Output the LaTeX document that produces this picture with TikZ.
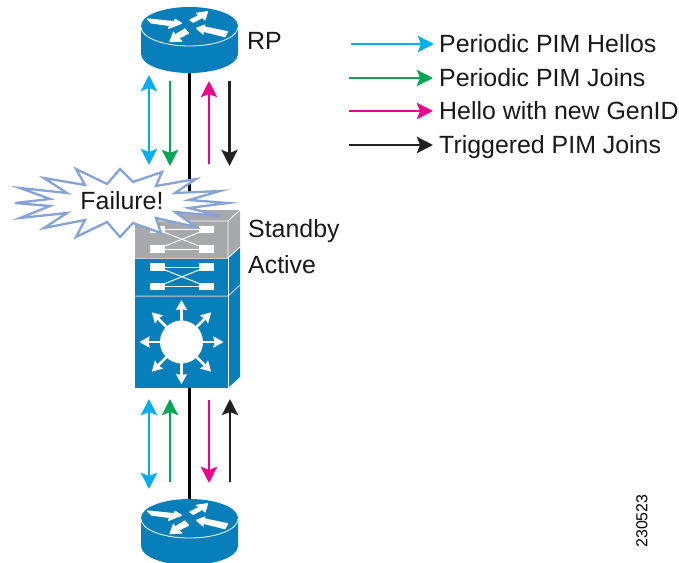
\documentclass[tikz,border=0pt]{standalone}
\usepackage{fontspec}
\setmainfont{Liberation Sans}
\usetikzlibrary{arrows.meta}
\usetikzlibrary{calc}
\usetikzlibrary{positioning}
\definecolor{ciscoblue}{RGB}{8,126,187}
\definecolor{ciscogray}{RGB}{167,169,172}
\definecolor{burstblue}{RGB}{133,163,214}
\definecolor{hellocol}{RGB}{0,174,239}
\definecolor{joincol}{RGB}{0,166,81}
\definecolor{gencol}{RGB}{236,0,140}
\definecolor{trigcol}{RGB}{35,31,32}

\begin{document}
\begin{tikzpicture}[x=1pt,y=-1pt]
        \tikzset{hello_edge/.style = {line width=2.9pt,color=hellocol,-{Stealth[length=16pt,width=16pt,inset=3pt]}}}
        \tikzset{hellos_edge/.style = {hello_edge,{Stealth[length=16pt,width=16pt,inset=3pt]}-{Stealth[length=16pt,width=16pt,inset=3pt]}}}
        \tikzset{join_edge/.style = {hello_edge,color=joincol}}
        \tikzset{gen_edge/.style = {hello_edge,color=gencol}}
        \tikzset{trig_edge/.style = {hello_edge,color=trigcol}}
        \tikzset{link/.style = {line width=2.4pt,color=black}}
        \tikzset{label/.style = {font=\fontsize{24.9pt}{28pt}\selectfont,inner sep=0pt,anchor=west,text=black!90,text height=17.8pt,text depth=0pt}}
        \tikzset{white_port/.style = {fill=white,draw=none,minimum width=15pt,minimum height=7.5pt,inner sep=0pt}}
        \tikzset{cross/.style = {line width=1pt,color=white}}
        \tikzset{fan_arrow/.style = {line width=2.6pt,color=white,-{Stealth[length=10pt,width=11pt,inset=1pt]}}}
        \tikzset{router_arrow/.style = {fill=white,draw=white,line width=1.2pt,line join=round}}
        \tikzset{router/.pic = {
            \fill[ciscoblue] (-48.5,0) -- (-48.5,28) arc[start angle=180,end angle=0,x radius=48.5,y radius=19] -- (48.5,0) -- cycle;
            \fill[ciscoblue] (0,0) ellipse[x radius=48.5,y radius=19];
            \draw[white,line width=0.8pt] (-48.5,1) arc[start angle=180,end angle=0,x radius=48.5,y radius=19];
            \filldraw[router_arrow] (-42,-7) -- (-15,-4.3) -- (-14.5,-6.7) -- (-8,-2.7) -- (-21,2.3) -- (-19.5,-0.5) -- (-38,-3) -- cycle;
            \filldraw[router_arrow] (18,-14.3) -- (7,-12.7) -- (10,-10.7) -- (0.5,-6) -- (3.8,-3.7) -- (13,-8.7) -- (15.5,-6) -- cycle;
            \filldraw[router_arrow] (7,2.3) -- (15.5,-1) -- (14,0.7) -- (38,5.7) -- (35.5,10.7) -- (13,5) -- (13.8,8) -- cycle;
            \filldraw[router_arrow] (-19.5,15.7) -- (-7.8,15) -- (-11,12.3) -- (-1,7.3) -- (-4.5,3) -- (-14.5,9) -- (-16,6.3) -- cycle;
        }}

        % coordinates for the arrow ends
        \coordinate (rpbase) at (189.5,73); \coordinate (swtop) at (189.5,212); \coordinate (swbase) at (189.5,388); \coordinate (edgetop) at (189.5,499);
        \coordinate (ua1) at (149,75); \coordinate (ua2) at (149,165); \coordinate (ub1) at (170,81); \coordinate (ub2) at (170,166);
        \coordinate (uc1) at (209,164); \coordinate (uc2) at (209,81); \coordinate (ud1) at (229.5,81); \coordinate (ud2) at (229.5,166);
        \coordinate (la1) at (149,399); \coordinate (la2) at (149,489); \coordinate (lb1) at (170,482); \coordinate (lb2) at (170,399);
        \coordinate (lc1) at (209,400); \coordinate (lc2) at (209,483); \coordinate (ld1) at (230,482); \coordinate (ld2) at (230,399);

        \useasboundingbox (0,0) rectangle (679,562);

        \pic at (189.5,26) {router};
        \pic at (189.5,518) {router};

        \draw[link] (rpbase) -- (swtop);
        \draw[link] (swbase) -- (edgetop);

        \draw[hellos_edge] (ua1) -- (ua2); \draw[join_edge] (ub1) -- (ub2); \draw[gen_edge] (uc1) -- (uc2); \draw[trig_edge] (ud1) -- (ud2);
        \draw[hellos_edge] (la1) -- (la2); \draw[join_edge] (lb1) -- (lb2); \draw[gen_edge] (lc1) -- (lc2); \draw[trig_edge] (ld1) -- (ld2);

        % switch stack
        \fill[ciscogray] (135,221) -- (147,210) -- (240,210) -- (240,247) -- (228,258) -- (135,258) -- cycle;
        \fill[ciscoblue] (135,258) rectangle (228,388);
        \fill[ciscoblue] (228,258) -- (240,247) -- (240,377) -- (228,388) -- cycle;
        \draw[white,line width=0.8pt] (135,221) -- (228,221) -- (240,210); \draw[white,line width=0.8pt] (228,221) -- (228,258) -- (240,247);
        \draw[ciscogray!60!white,line width=1pt] (135,258) -- (228,258);
        \draw[ciscogray!60!white,line width=1pt] (135,296) -- (228,296) -- (240,285);
        \draw[white,line width=0.8pt] (228,258) -- (228,388);

        \node[white_port] (sb1) at (157.5,229.5) {}; \node[white_port] (sb2) at (206.5,229.5) {};
        \node[white_port] (sb3) at (157.5,249) {}; \node[white_port] (sb4) at (206.5,249) {};
        \draw[cross] (sb1) -- (sb4); \draw[cross] (sb3) -- (sb2); \draw[cross] (sb1) -- (sb2); \draw[cross] (sb3) -- (sb4);
        \node[white_port] (ac1) at (157.5,267) {}; \node[white_port] (ac2) at (206.5,267) {};
        \node[white_port] (ac3) at (157.5,286.5) {}; \node[white_port] (ac4) at (206.5,286.5) {};
        \draw[cross] (ac1) -- (ac4); \draw[cross] (ac3) -- (ac2); \draw[cross] (ac1) -- (ac2); \draw[cross] (ac3) -- (ac4);

        % router hub
        \node[circle,fill=white,minimum size=43pt,inner sep=0pt] (hub) at (181.5,342) {};
        \foreach \ang in {0,45,...,315} {
            \draw[fan_arrow] (hub.center) ++(\ang:20) -- ++(\ang:22);
        }

        % failure burst
        \filldraw[draw=burstblue,fill=white,line width=2.3pt,line join=miter,miter limit=10]
            (15,203) -- (50,199) -- (20,188) -- (67,193) -- (44,178) -- (85,185) -- (76,169) -- (107,184)
            -- (120,169) -- (133,182) -- (162,172) -- (156,186) -- (196,179) -- (175,193) -- (220,191) -- (189,200)
            -- (228,203) -- (189,208) -- (220,216) -- (175,212) -- (196,227) -- (156,218) -- (161,233) -- (133,223)
            -- (120,237) -- (107,222) -- (76,237) -- (85,220) -- (44,228) -- (67,213) -- (20,218) -- (50,206) -- cycle;
        \node[label,anchor=center] (failure) at (122,201) {Failure!};

        \node[label] (rp) at (247,41) {RP};
        \node[label] (standby) at (248,229) {Standby};
        \node[label] (active) at (248,265) {Active};

        % legend
        \node[label] (lg1) at (439,44) {Periodic PIM Hellos};
        \node[label] (lg2) at (439,78) {Periodic PIM Joins};
        \node[label] (lg3) at (439,111) {Hello with new GenID};
        \node[label] (lg4) at (439,145) {Triggered PIM Joins};
        \coordinate (ls1) at (351,44); \coordinate (ls2) at (349,78); \coordinate (ls3) at (349,111); \coordinate (ls4) at (349,145);
        \coordinate (le1) at (434,44); \coordinate (le2) at (433,78); \coordinate (le3) at (433,111); \coordinate (le4) at (433,145);
        \draw[hello_edge] (ls1) -- (le1);
        \draw[join_edge] (ls2) -- (le2);
        \draw[gen_edge] (ls3) -- (le3);
        \draw[trig_edge] (ls4) -- (le4);

        \node[font=\fontsize{15.9pt}{18pt}\selectfont,rotate=90,inner sep=0pt] (figid) at (642,521) {230523};
\end{tikzpicture}
\end{document}
